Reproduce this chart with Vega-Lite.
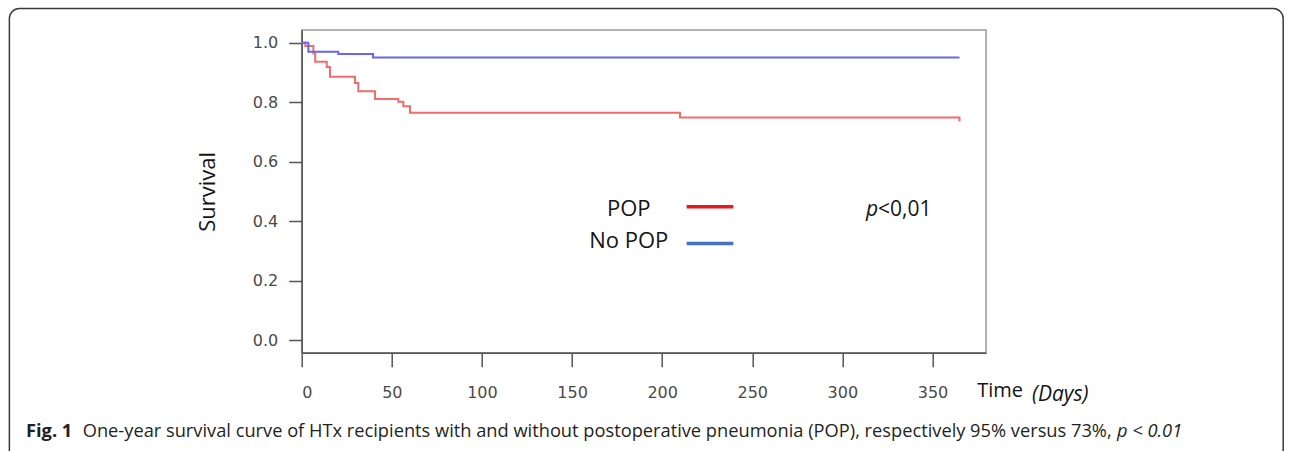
{
  "$schema": "https://vega.github.io/schema/vega-lite/v6.json",
  "width": 684.3,
  "height": 322.7,
  "autosize": {"type": "none"},
  "padding": {"left": 301.7, "top": 30, "right": 306, "bottom": 98.3},
  "background": "white",
  "config": {
    "view": {"stroke": "#9a9a9a", "strokeWidth": 1.5},
    "text": {"font": "Open Sans", "color": "#141414"}
  },
  "datasets": {
    "km": [
      {"group": "POP", "time": 0, "survival": 1.0},
      {"group": "POP", "time": 2, "survival": 0.989},
      {"group": "POP", "time": 6.5, "survival": 0.964},
      {"group": "POP", "time": 7.5, "survival": 0.936},
      {"group": "POP", "time": 13.9, "survival": 0.919},
      {"group": "POP", "time": 15.7, "survival": 0.886},
      {"group": "POP", "time": 29.6, "survival": 0.865},
      {"group": "POP", "time": 31.4, "survival": 0.837},
      {"group": "POP", "time": 40.7, "survival": 0.811},
      {"group": "POP", "time": 53.6, "survival": 0.802},
      {"group": "POP", "time": 56.4, "survival": 0.787},
      {"group": "POP", "time": 60.1, "survival": 0.765},
      {"group": "POP", "time": 209.9, "survival": 0.749},
      {"group": "POP", "time": 365, "survival": 0.736},
      {"group": "No POP", "time": 0, "survival": 1.0},
      {"group": "No POP", "time": 3.7, "survival": 0.97},
      {"group": "No POP", "time": 20.3, "survival": 0.962},
      {"group": "No POP", "time": 39.6, "survival": 0.951},
      {"group": "No POP", "time": 365, "survival": 0.951}
    ]
  },
  "layer": [
    {
      "data": {"values": [{}]},
      "mark": {"type": "rect", "fill": "transparent", "stroke": "#3a3a3a", "strokeWidth": 1.5, "cornerRadius": 10, "clip": false},
      "encoding": {
        "x": {"datum": -162.2},
        "x2": {"datum": 544.6},
        "y": {"datum": 1.115},
        "y2": {"datum": -0.5}
      }
    },
    {
      "data": {"name": "km"},
      "mark": {"type": "line", "interpolate": "step-after", "strokeWidth": 2},
      "encoding": {
        "x": {
          "field": "time", "type": "quantitative",
          "scale": {"domain": [0, 379.7], "nice": false, "zero": false},
          "axis": {
            "values": [0, 50, 100, 150, 200, 250, 300, 350],
            "title": null, "grid": false,
            "domainColor": "#555555", "domainWidth": 1.5,
            "tickColor": "#555555", "tickWidth": 1.5, "tickSize": 14,
            "labelFont": "DejaVu Sans", "labelFontSize": 16, "labelColor": "#4a4a4a",
            "labelPadding": 18
          }
        },
        "y": {
          "field": "survival", "type": "quantitative",
          "scale": {"domain": [-0.041, 1.043], "nice": false, "zero": false},
          "axis": {
            "values": [0, 0.2, 0.4, 0.6, 0.8, 1.0], "format": ".1f",
            "title": "Survival", "grid": false,
            "domainColor": "#555555", "domainWidth": 1.5,
            "tickColor": "#555555", "tickWidth": 1.5, "tickSize": 13,
            "labelFont": "DejaVu Sans", "labelFontSize": 16, "labelColor": "#4a4a4a",
            "labelPadding": 11,
            "titleFont": "Open Sans", "titleFontSize": 22, "titleFontWeight": "normal",
            "titleColor": "#141414", "titlePadding": 33
          }
        },
        "color": {
          "field": "group", "type": "nominal",
          "scale": {"domain": ["POP", "No POP"], "range": ["#ef6d6d", "#6666ee"]},
          "legend": null
        }
      }
    },
    {
      "data": {"values": [{}]},
      "mark": {"type": "rule", "color": "#e5191f", "strokeWidth": 3.5},
      "encoding": {"x": {"datum": 213.6}, "x2": {"datum": 239.5}, "y": {"datum": 0.449}}
    },
    {
      "data": {"values": [{}]},
      "mark": {"type": "rule", "color": "#4472c4", "strokeWidth": 3.5},
      "encoding": {"x": {"datum": 213.6}, "x2": {"datum": 239.5}, "y": {"datum": 0.326}}
    },
    {
      "data": {"values": [{}]},
      "mark": {"type": "text", "text": "POP", "align": "center", "baseline": "alphabetic", "fontSize": 22},
      "encoding": {"x": {"datum": 181.5}, "y": {"datum": 0.419}}
    },
    {
      "data": {"values": [{}]},
      "mark": {"type": "text", "text": "No POP", "align": "center", "baseline": "alphabetic", "fontSize": 22},
      "encoding": {"x": {"datum": 181.5}, "y": {"datum": 0.31}}
    },
    {
      "data": {"values": [{}]},
      "mark": {"type": "text", "text": "p", "align": "right", "baseline": "alphabetic", "fontSize": 21, "fontStyle": "italic"},
      "encoding": {"x": {"datum": 319.8}, "y": {"datum": 0.418}}
    },
    {
      "data": {"values": [{}]},
      "mark": {"type": "text", "text": "<0,01", "align": "left", "baseline": "alphabetic", "fontSize": 21},
      "encoding": {"x": {"datum": 319.8}, "y": {"datum": 0.418}}
    },
    {
      "data": {"values": [{}]},
      "mark": {"type": "text", "text": "Time", "align": "left", "baseline": "alphabetic", "fontSize": 20},
      "encoding": {"x": {"datum": 374.8}, "y": {"datum": -0.189}}
    },
    {
      "data": {"values": [{}]},
      "mark": {"type": "text", "text": "(Days)", "align": "left", "baseline": "alphabetic", "fontSize": 21, "fontStyle": "italic"},
      "encoding": {"x": {"datum": 405.2}, "y": {"datum": -0.203}}
    },
    {
      "data": {"values": [{}]},
      "mark": {"type": "text", "text": "Fig. 1", "align": "left", "baseline": "alphabetic", "fontSize": 18.3, "fontWeight": "bold", "color": "#231f20"},
      "encoding": {"x": {"datum": -153}, "y": {"datum": -0.323}}
    },
    {
      "data": {"values": [{}]},
      "mark": {"type": "text", "text": "One-year survival curve of HTx recipients with and without postoperative pneumonia (POP), respectively 95% versus 73%,", "align": "left", "baseline": "alphabetic", "fontSize": 18.25, "color": "#231f20"},
      "encoding": {"x": {"datum": -121.5}, "y": {"datum": -0.323}}
    },
    {
      "data": {"values": [{}]},
      "mark": {"type": "text", "text": "p < 0.01", "align": "left", "baseline": "alphabetic", "fontSize": 18.25, "fontStyle": "italic", "color": "#231f20"},
      "encoding": {"x": {"datum": 452.4}, "y": {"datum": -0.323}}
    }
  ]
}
